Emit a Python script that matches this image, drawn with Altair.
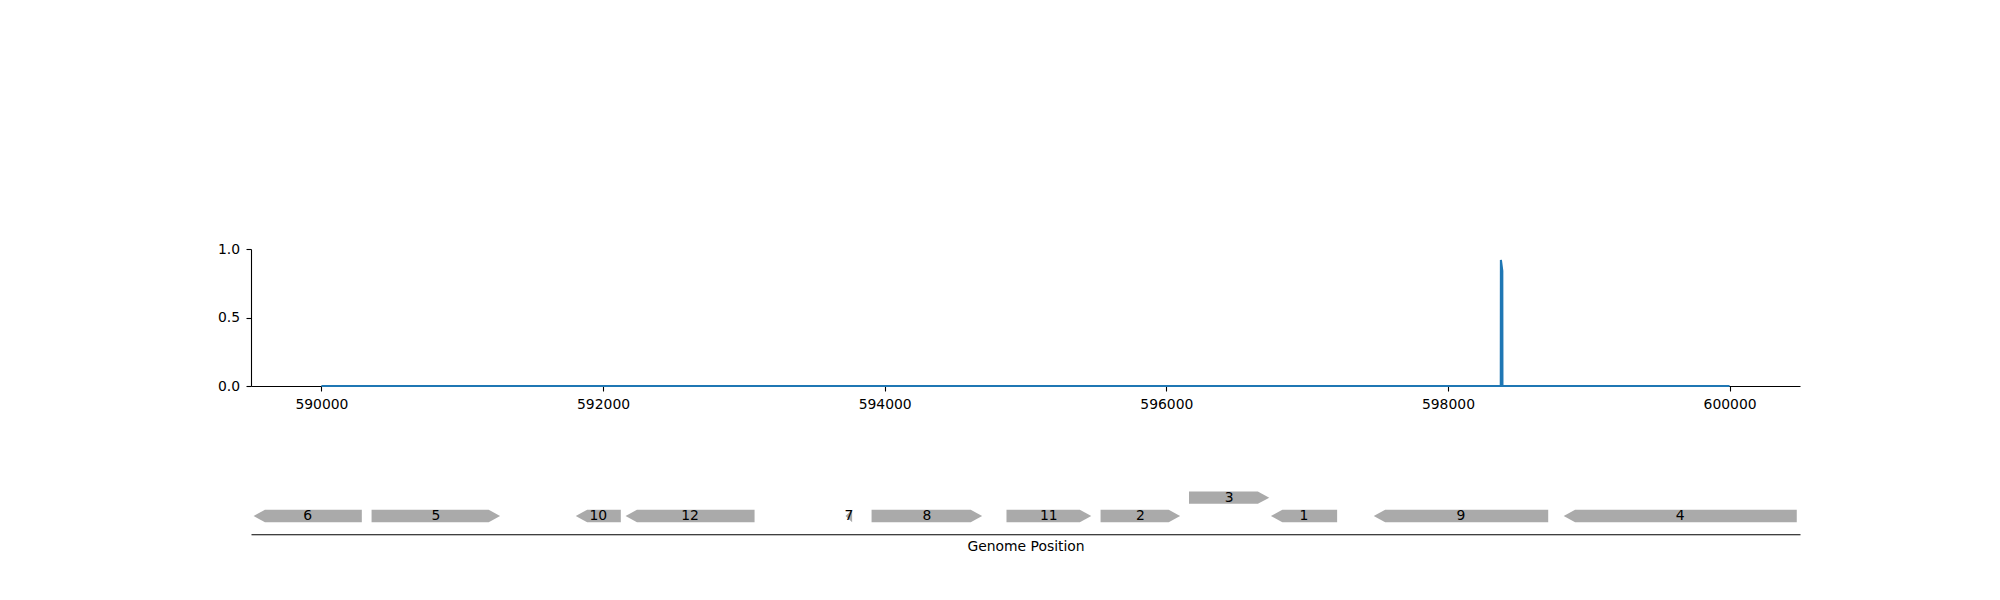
import altair as alt
import pandas as pd

# ---- coverage track ----
cov_pos = [590000, 598375, 598376, 598386, 598387, 600000]
cov_val = [0.0, 0.0, 0.92, 0.84, 0.0, 0.0]

x_ticks = [590000, 592000, 594000, 596000, 598000, 600000]
y_ticks = [0.0, 0.5, 1.0]

# ---- gene annotation track ----
gene_labels = ["1", "2", "3", "4", "5", "6", "7", "8", "9", "10", "11", "12"]
gene_start = [596743, 595533, 596161, 598822, 590356, 589518, 593722, 593907, 597473, 591806, 594865, 592160]
gene_end = [597213, 596098, 596731, 600477, 591269, 590287, 593769, 594692, 598712, 592126, 595467, 593076]
gene_strand = [-1, 1, 1, -1, 1, -1, -1, 1, -1, -1, 1, -1]
gene_level = [0, 0, 1, 0, 0, 0, 0, 0, 0, 0, 0, 0]

HEAD_BP = 81
HALF = 0.338
FONT = "DejaVu Sans"
FS = 13.9

cov_df = pd.DataFrame({"pos": cov_pos, "cov": cov_val})

rows = []
for lab, s, e, st, lv in zip(gene_labels, gene_start, gene_end, gene_strand, gene_level):
    head = min(HEAD_BP, e - s)
    if st > 0:
        pts = [(s, HALF), (e - head, HALF), (e, 0.0)]
    else:
        pts = [(s, 0.0), (s + head, HALF), (e, HALF)]
    for i, (x, h) in enumerate(pts):
        rows.append({"gene": "g" + lab, "x": x, "lo": lv - h, "hi": lv + h, "idx": i})
poly_df = pd.DataFrame(rows)

genes_df = pd.DataFrame({
    "gene": gene_labels,
    "start": gene_start,
    "end": gene_end,
    "level": gene_level,
})

xscale = alt.Scale(domain=[589500, 600500], nice=False, zero=False)

top = alt.Chart(cov_df).mark_line(color="#1f77b4", strokeWidth=2.08).encode(
    x=alt.X("pos:Q", scale=xscale,
            axis=alt.Axis(values=x_ticks, format="d", title=None, tickSize=5, labelPadding=6)),
    y=alt.Y("cov:Q", scale=alt.Scale(domain=[0, 1], nice=False, zero=False),
            axis=alt.Axis(values=y_ticks, format=".1f", title=None, tickSize=5, labelPadding=6.5)),
).properties(width=1549, height=137)

yscale = alt.Scale(domain=[-1, 2], nice=False, zero=False)

arrows = alt.Chart(poly_df).mark_area(color="#aaaaaa", orient="vertical", interpolate="linear").encode(
    x=alt.X("x:Q", scale=xscale,
            axis=alt.Axis(labels=False, ticks=False, title="Genome Position", titlePadding=5)),
    y=alt.Y("lo:Q", scale=yscale, axis=None, stack=None),
    y2=alt.Y2("hi:Q"),
    detail=alt.Detail("gene:N"),
)

labels = alt.Chart(genes_df).transform_calculate(
    mid="(datum.start + datum.end) / 2"
).mark_text(font=FONT, fontSize=FS, color="black", baseline="middle", align="center").encode(
    x=alt.X("mid:Q", scale=xscale),
    y=alt.Y("level:Q", scale=yscale, axis=None),
    text="gene:N",
)

bottom = alt.layer(arrows, labels).properties(width=1549, height=55)

chart = alt.vconcat(top, bottom, spacing=93.3, bounds="flush").properties(
    padding={"left": 209, "top": 234, "right": 10, "bottom": 10}
).configure_view(stroke=None).configure_axis(
    grid=False,
    labelFont=FONT, titleFont=FONT,
    labelFontSize=FS, titleFontSize=FS,
    titleFontWeight="normal",
    labelColor="black", titleColor="black",
    domainColor="black", tickColor="black",
    domainWidth=1.1, tickWidth=1.1,
)

chart.save("out.html", embed_options={"renderer": "svg", "actions": False})
